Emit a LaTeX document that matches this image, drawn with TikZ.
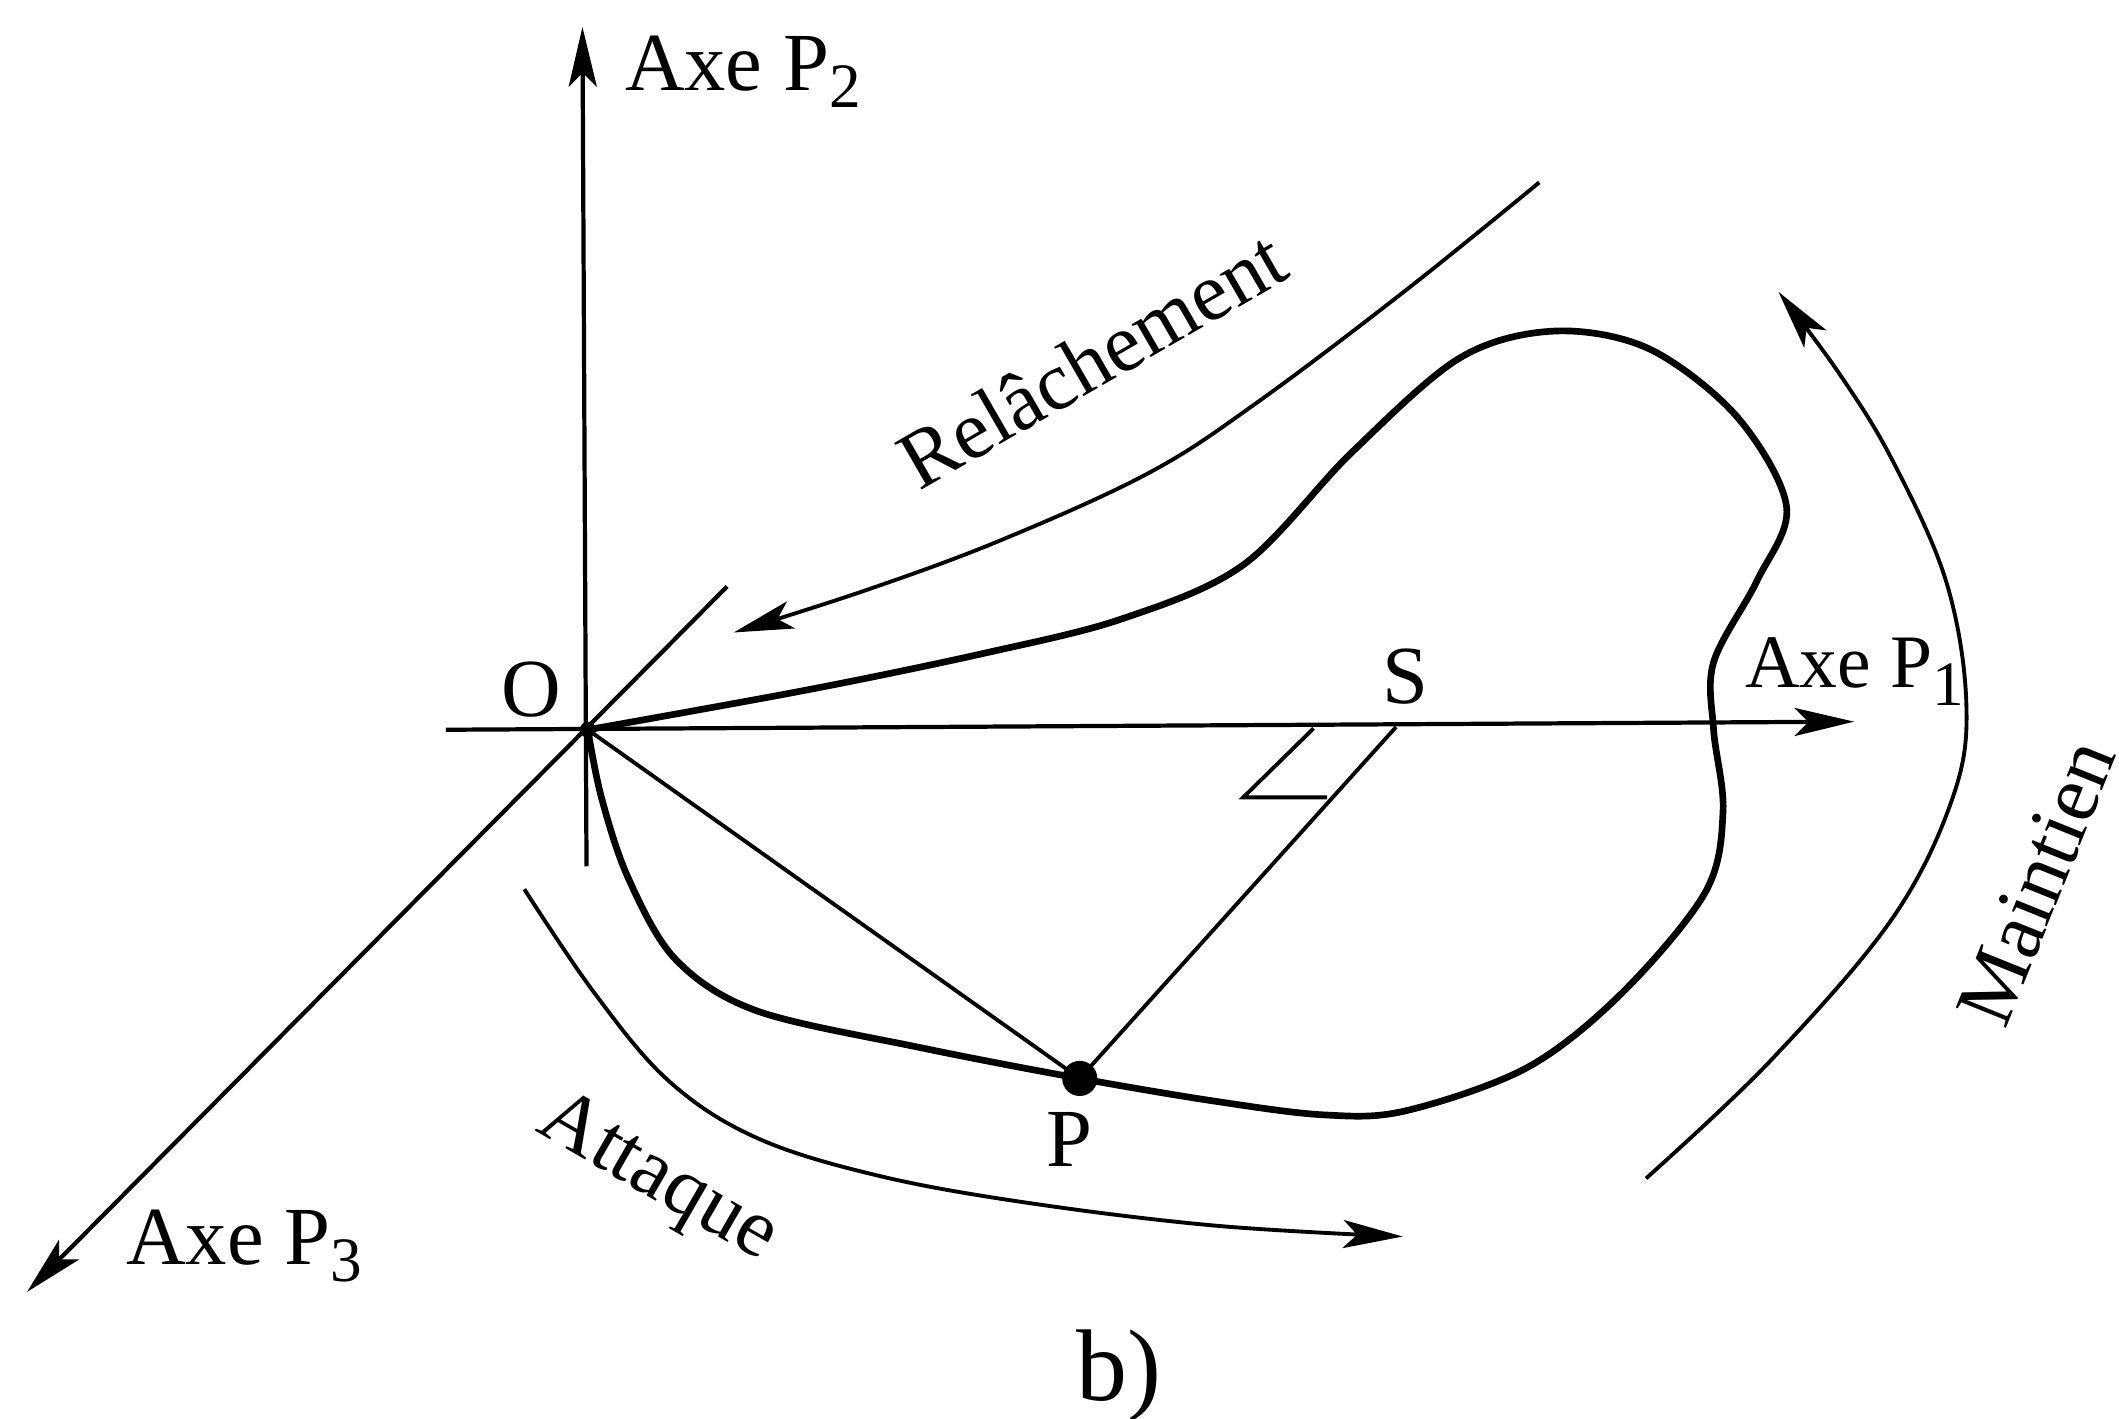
\documentclass[tikz,border=0pt]{standalone}
\usepackage{fontspec}
\setmainfont{Liberation Serif}
\usetikzlibrary{arrows.meta, positioning, calc}
\newcommand{\axeidx}[1]{\raisebox{-5pt}{\fontsize{18}{18}\selectfont #1}}
\tikzset{
  axisline/.style={line width=1.2pt, -{Stealth[length=17pt,width=8pt,inset=4pt]}},
  phaseline/.style={line width=1.1pt},
  phasearrow/.style={phaseline, -{Stealth[length=17pt,width=8pt,inset=4pt]}},
  envelope/.style={line width=1.9pt, line join=round},
  lbl/.style={font=\fontsize{23.5}{26}\selectfont, inner sep=0pt}
}
\begin{document}
\begin{tikzpicture}[x=0.013514cm, y=-0.013514cm]
    \useasboundingbox (0,0) rectangle (1568,1050);
    \coordinate (O) at (435,540);
    \coordinate (S) at (1033,538);
    \coordinate (P) at (799,798);
    \coordinate (p1end) at (1372,534);
    \coordinate (p1start) at (330,540);
    \coordinate (p2end) at (431,20);
    \coordinate (p2start) at (434,641);
    \coordinate (p3end) at (20,956);
    \coordinate (p3start) at (538,434);
    \coordinate (sq1) at (972,539);
    \coordinate (sq2) at (920,590);
    \coordinate (sq3) at (982,590);
    % axes
    \draw[axisline] (p1start) -- (p1end);
    \draw[axisline] (p2start) -- (p2end);
    \draw[axisline] (p3start) -- (p3end);
    \node[lbl, anchor=west, font=\fontsize{21.5}{24}\selectfont] (axe1) at (1291,497) {Axe P\axeidx{1}};
    \node[lbl, anchor=west] (axe2) at (462,53) {Axe P\axeidx{2}};
    \node[lbl, anchor=west] (axe3) at (93,922) {Axe P\axeidx{3}};
    \node[lbl] (labO) at (393,510) {O};
    \node[lbl] (labS) at (1040,501) {S};
    \node[lbl] (labP) at (791,843) {P};
    \node[lbl, font=\fontsize{29}{31}\selectfont] (labb) at (828,1018) {b)};
    % envelope
    \draw[envelope] plot[smooth, tension=0.55] coordinates {(O) (600,510) (730,483) (830,458) (920,418)
      (1000,335) (1080,265) (1150,245) (1220,258) (1285,308) (1322,375) (1300,430) (1268,490)
      (1268,540) (1275,600) (1262,660) (1200,735) (1130,790) (1040,822) (980,825) (900,815)
      (P) (680,775) (560,748) (500,710) (465,650) (445,590) (O)};
    \draw[phaseline] (O) -- (P) -- (S);
    \draw[phaseline] (sq1) -- (sq2) -- (sq3);
    \fill (O) circle (6);
    \fill (P) circle (13);
    % phases
    \draw[phasearrow] plot[smooth, tension=0.6] coordinates {(1139,135) (1040,215) (930,298)
      (850,350) (740,400) (640,437) (543,468)};
    \draw[phasearrow] plot[smooth, tension=0.6] coordinates {(1218,872) (1310,785) (1400,680)
      (1445,590) (1455,520) (1440,430) (1400,340) (1360,275) (1316,216)};
    \draw[phasearrow] plot[smooth, tension=0.6] coordinates {(388,658) (440,735) (495,800)
      (560,842) (650,870) (760,890) (900,907) (1038,915)};
    \node[lbl, rotate=30] (relache) at (808,266) {Relâchement};
    \node[lbl, rotate=-30] (attaque) at (486,873) {Attaque};
    \node[lbl, rotate=68] (maintien) at (1507,653) {Maintien};
\end{tikzpicture}
\end{document}
